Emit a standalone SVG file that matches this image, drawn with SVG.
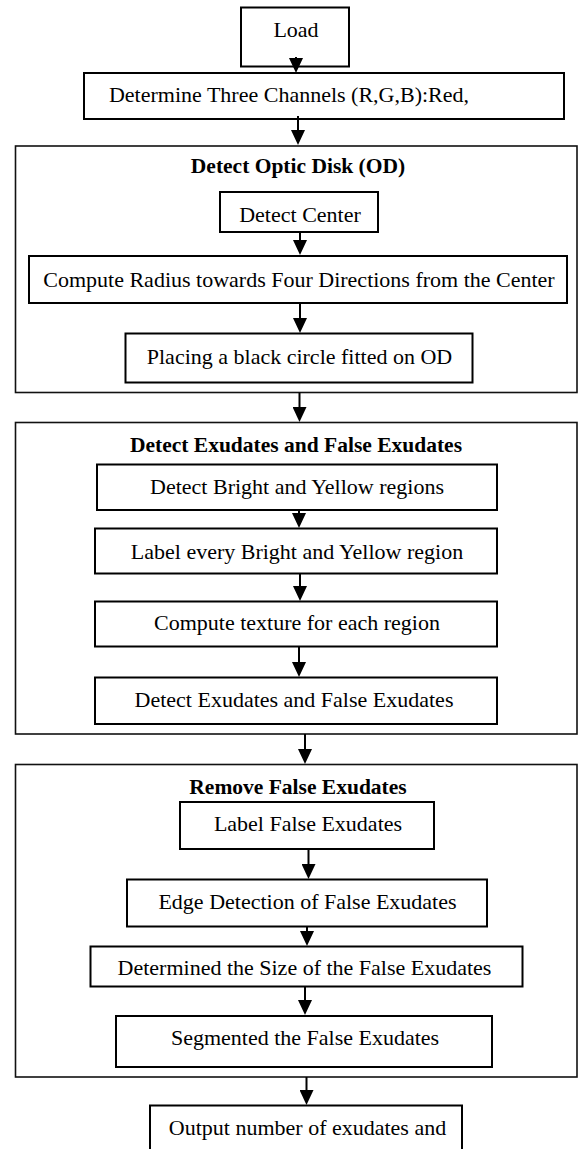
<svg xmlns="http://www.w3.org/2000/svg" width="579" height="1149" viewBox="0 0 579 1149">
<style>
.box{fill:#fff;stroke:#000;stroke-width:2}
.outer{fill:#fff;stroke:#111;stroke-width:1.6}
.t{font-family:"Liberation Serif","Times New Roman",serif;font-size:22px;fill:#000;text-anchor:middle}
.b{font-weight:bold;font-size:21.5px}
.c{stroke:#000;stroke-width:2;fill:none;marker-end:url(#ah)}
</style>
<defs>
<marker id="ah" markerUnits="userSpaceOnUse" markerWidth="15" markerHeight="14" refX="7" refY="7" orient="auto">
<path d="M0,0 L15,7 L0,14 Z" fill="#000"/>
</marker>
</defs>
<rect x="0" y="0" width="579" height="1149" fill="#fff"/>
<g id="outer1"><rect class="outer" x="15.5" y="146" width="561.5" height="246.5"/><text class="t b" x="298" y="173">Detect Optic Disk (OD)</text></g>
<g id="outer2"><rect class="outer" x="15.5" y="422.5" width="561.5" height="311.5"/><text class="t b" x="296" y="452">Detect Exudates and False Exudates</text></g>
<g id="outer3"><rect class="outer" x="15.5" y="764.5" width="561.5" height="312.5"/><text class="t b" x="298" y="794">Remove False Exudates</text></g>
<g id="load"><rect class="box" x="241" y="7.5" width="108" height="59"/><text class="t" x="296" y="37">Load</text></g>
<g id="channels"><rect class="box" x="84" y="73" width="480" height="46"/><text class="t" x="289" y="102">Determine Three Channels (R,G,B):Red,</text></g>
<g id="center"><rect class="box" x="220" y="192" width="158" height="40"/><text class="t" x="300" y="222">Detect Center</text></g>
<g id="radius"><rect class="box" x="29" y="256" width="538" height="47"/><text class="t" x="299" y="287">Compute Radius towards Four Directions from the Center</text></g>
<g id="placing"><rect class="box" x="125.5" y="333.5" width="347" height="49"/><text class="t" x="299.5" y="363.5">Placing a black circle fitted on OD</text></g>
<g id="bright"><rect class="box" x="97" y="464.5" width="400" height="45.5"/><text class="t" x="297" y="493.5">Detect Bright and Yellow regions</text></g>
<g id="labelevery"><rect class="box" x="95" y="528.5" width="402" height="45"/><text class="t" x="297" y="558.5">Label every Bright and Yellow region</text></g>
<g id="texture"><rect class="box" x="95" y="601.5" width="402" height="45"/><text class="t" x="297" y="630">Compute texture for each region</text></g>
<g id="detectex"><rect class="box" x="95" y="677.5" width="402" height="46.5"/><text class="t" x="294" y="707">Detect Exudates and False Exudates</text></g>
<g id="labelfalse"><rect class="box" x="180" y="802" width="254" height="47"/><text class="t" x="308" y="831">Label False Exudates</text></g>
<g id="edge"><rect class="box" x="127" y="879.5" width="360" height="47"/><text class="t" x="307.5" y="908.5">Edge Detection of False Exudates</text></g>
<g id="size"><rect class="box" x="90.5" y="946.5" width="432" height="40"/><text class="t" x="304.5" y="975">Determined the Size of the False Exudates</text></g>
<g id="segmented"><rect class="box" x="116" y="1016" width="376" height="51"/><text class="t" x="305" y="1045">Segmented the False Exudates</text></g>
<g id="output"><rect class="box" x="150" y="1105.5" width="312" height="60"/><text class="t" x="307.5" y="1135">Output number of exudates and</text></g>
<g id="connectors">
<line class="c" x1="296" y1="57" x2="296" y2="65"/>
<line class="c" x1="298" y1="116" x2="298" y2="137"/>
<line class="c" x1="300" y1="232" x2="300" y2="247"/>
<line class="c" x1="300" y1="303" x2="300" y2="325"/>
<line class="c" x1="299.5" y1="392.5" x2="299.5" y2="414"/>
<line class="c" x1="299" y1="510" x2="299" y2="520"/>
<line class="c" x1="300" y1="573.5" x2="300" y2="593"/>
<line class="c" x1="299" y1="646.5" x2="299" y2="669"/>
<line class="c" x1="305" y1="734" x2="305" y2="756"/>
<line class="c" x1="308.5" y1="849" x2="308.5" y2="871"/>
<line class="c" x1="307" y1="926.5" x2="307" y2="938"/>
<line class="c" x1="305" y1="986.5" x2="305" y2="1007"/>
<line class="c" x1="306.5" y1="1077" x2="306.5" y2="1097"/>
</g>
</svg>
